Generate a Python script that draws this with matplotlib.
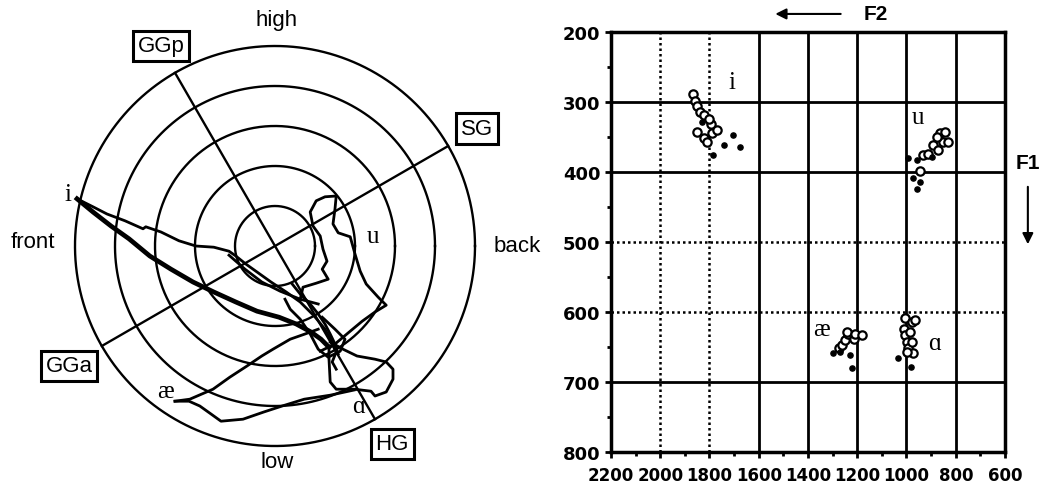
import matplotlib.pyplot as plt
import numpy as np

# ---- left panel: tongue trajectories in a polar-grid plane (units = ring spacing) ----
ring_radii = [1, 2, 3, 4, 5]
axis_angles = [30, 120]          # SG-GGa and GGp-HG axes, degrees

i_upper_x = [-4.95, -4.55, -4.2, -3.75, -3.3, -3.23, -2.85, -2.4, -1.98, -1.53, -1.15, -0.98,
             -0.73, -0.45, -0.1, 0.28, 0.63, 0.98, 1.25, 1.43, 1.53, 1.43, 1.53]
i_upper_y = [1.18, 0.98, 0.8, 0.63, 0.43, 0.48, 0.35, 0.13, 0.0, -0.03, -0.13, -0.25,
             -0.45, -0.65, -0.9, -1.15, -1.4, -1.75, -2.08, -2.4, -2.65, -2.9, -3.08]

i_lower_x = [-4.95, -4.55, -4.1, -3.65, -3.13, -2.6, -2.05, -1.53, -0.98, -0.45, 0.1, 0.53, 0.9, 1.15, 1.35]
i_lower_y = [1.18, 0.85, 0.5, 0.18, -0.25, -0.58, -0.9, -1.15, -1.4, -1.63, -1.78, -1.95, -2.15, -2.33, -2.53]

i_mid_x = [-1.15, -0.75, -0.33, 0.13, 0.63, 1.08]
i_mid_y = [-0.23, -0.58, -0.9, -1.13, -1.33, -1.45]

u_x = [0.63, 0.7, 1.03, 1.33, 1.18, 1.3, 1.2, 1.13, 0.95, 0.88, 1.03, 1.25, 1.53, 1.5, 1.45, 1.58,
       1.88, 2.0, 2.13, 2.28, 2.58, 2.78, 2.5, 2.18, 1.88, 1.5, 1.13]
u_y = [-1.33, -1.03, -0.93, -0.83, -0.58, -0.38, -0.08, 0.25, 0.5, 0.85, 1.13, 1.23, 1.25, 0.93, 0.55, 0.33,
       0.23, -0.2, -0.63, -0.95, -1.28, -1.48, -1.65, -1.88, -2.13, -2.45, -2.63]

ae_low_x = [-2.5, -2.15, -1.88, -1.6, -1.35, -0.8, -0.28, 0.18, 0.73, 1.38, 1.98]
ae_low_y = [-3.88, -3.88, -4.0, -4.2, -4.38, -4.33, -4.15, -4.0, -3.83, -3.73, -3.6]

ae_up_x = [-2.5, -2.13, -1.55, -1.13, -0.7, -0.33, -0.05, 0.38, 0.75, 1.08]
ae_up_y = [-3.88, -3.83, -3.58, -3.28, -3.0, -2.75, -2.58, -2.33, -2.2, -2.08]

a_x = [1.35, 1.35, 1.38, 1.53, 1.98, 2.4, 2.5, 2.78, 2.95, 2.95, 2.78, 2.5, 2.05, 1.7, 1.38]
a_y = [-2.5, -2.83, -3.4, -3.58, -3.58, -3.63, -3.75, -3.65, -3.33, -3.08, -2.9, -2.83, -2.75, -2.58, -2.4]

clA_x = [0.43, 0.63, 0.88, 1.08, 1.25, 1.38, 1.5, 1.58]
clA_y = [-0.95, -1.2, -1.45, -1.7, -1.95, -2.2, -2.45, -2.7]
clB_x = [0.25, 0.38, 0.63, 0.88, 1.08, 1.33, 1.63, 1.75, 1.5, 1.18]
clB_y = [-1.33, -1.58, -1.83, -2.2, -2.58, -2.78, -2.63, -2.33, -2.08, -1.78]

# ---- right panel: F1/F2 formant scatter (Hz) ----
open_f2 = [1865, 1858, 1851, 1840, 1821, 1851, 1824, 1794, 1790, 1770, 1804, 1810,
           931, 911, 891, 871, 850, 830, 864, 844, 877, 945,
           1276, 1263, 1249, 1236, 1242, 1215, 1208, 1181,
           1006, 1012, 1006, 999, 992, 979, 965, 985, 979, 972, 999]
open_f1 = [289, 298, 306, 314, 318, 343, 352, 332, 345, 340, 324, 357,
           376, 374, 362, 369, 357, 357, 345, 343, 350, 398,
           652, 647, 640, 631, 629, 638, 631, 633,
           609, 624, 633, 643, 652, 614, 612, 629, 643, 659, 657]
dot_f2 = [1786, 1740, 1705, 1675, 1831, 992, 972, 945, 958, 897, 958, 1297, 1269, 1229, 1222, 1033, 982]
dot_f1 = [376, 362, 347, 365, 328, 380, 409, 414, 424, 379, 383, 659, 657, 662, 680, 666, 678]

vowel_labels = ['i', 'u', 'æ', 'ɑ']
polar_label_x = [-5.18, 2.45, -2.75, 2.08]
polar_label_y = [1.3, 0.25, -3.63, -4.0]
scatter_label_f2 = [1709, 952, 1344, 884]
scatter_label_f1 = [271, 321, 624, 645]

xticks = [2200, 2000, 1800, 1600, 1400, 1200, 1000, 800, 600]
yticks = [200, 300, 400, 500, 600, 700, 800]
solid_v = [1600, 1400, 1200, 1000, 800]
dotted_v = [2000, 1800]
solid_h = [300, 400, 700]
dotted_h = [500, 600]

serif = ['Liberation Serif', 'DejaVu Serif']
sans = ['Liberation Sans', 'DejaVu Sans']

fig = plt.figure(figsize=(10.51, 4.85), dpi=100)

# ---------- left ----------
ax = fig.add_axes([0, 0, 560 / 1051, 1])
ax.set_xlim(-6.875, 7.125)
ax.set_ylim(-5.95, 6.175)
ax.axis('off')

t = np.linspace(0, 2 * np.pi, 400)
for r in ring_radii:
    ax.plot(r * np.cos(t), r * np.sin(t), color='k', lw=1.7)
for a in axis_angles:
    rad = np.deg2rad(a)
    ax.plot([-5 * np.cos(rad), 5 * np.cos(rad)], [-5 * np.sin(rad), 5 * np.sin(rad)], color='k', lw=1.7)

ax.plot(i_lower_x, i_lower_y, color='k', lw=3.4, solid_joinstyle='round')
for xs, ys in [(i_upper_x, i_upper_y), (i_mid_x, i_mid_y), (u_x, u_y), (ae_low_x, ae_low_y),
               (ae_up_x, ae_up_y), (a_x, a_y), (clA_x, clA_y), (clB_x, clB_y)]:
    ax.plot(xs, ys, color='k', lw=2, solid_joinstyle='round')

for lab, x, y in zip(vowel_labels, polar_label_x, polar_label_y):
    ax.text(x, y, lab, family=serif, fontsize=18, ha='center', va='center')

ax.text(0.05, 5.65, 'high', family=sans, fontsize=16, ha='center', va='center')
ax.text(0.05, -5.4, 'low', family=sans, fontsize=16, ha='center', va='center')
ax.text(-6.05, 0.12, 'front', family=sans, fontsize=16, ha='center', va='center')
ax.text(6.05, 0.0, 'back', family=sans, fontsize=16, ha='center', va='center')

box = dict(boxstyle='square,pad=0.22', fc='white', ec='k', lw=2.2)
ax.text(-2.85, 5.0, 'GGp', family=sans, fontsize=16, ha='center', va='center', bbox=box)
ax.text(5.05, 2.93, 'SG', family=sans, fontsize=16, ha='center', va='center', bbox=box)
ax.text(-5.15, -3.0, 'GGa', family=sans, fontsize=16, ha='center', va='center', bbox=box)
ax.text(2.93, -4.95, 'HG', family=sans, fontsize=16, ha='center', va='center', bbox=box)

# ---------- right ----------
bx = fig.add_axes([611 / 1051, 32 / 485, 394 / 1051, 420 / 485])
bx.set_xlim(2200, 600)
bx.set_ylim(800, 200)
for v in solid_v:
    bx.axvline(v, color='k', lw=2)
for v in dotted_v:
    bx.axvline(v, color='k', lw=1.8, ls=(0, (1, 1.2)))
for h in solid_h:
    bx.axhline(h, color='k', lw=2)
for h in dotted_h:
    bx.axhline(h, color='k', lw=1.8, ls=(0, (1, 1.2)))

bx.scatter(open_f2, open_f1, s=36, facecolors='white', edgecolors='k', linewidths=1.6, zorder=3)
bx.scatter(dot_f2, dot_f1, s=14, color='k', zorder=4)

for lab, x, y in zip(vowel_labels, scatter_label_f2, scatter_label_f1):
    bx.text(x, y, lab, family=serif, fontsize=18, ha='center', va='center')

bx.set_xticks(xticks)
bx.set_yticks(yticks)
bx.set_xticks(np.arange(2100, 600, -200), minor=True)
bx.set_yticks(np.arange(250, 800, 100), minor=True)
bx.tick_params(which='major', direction='out', length=4, width=2)
bx.tick_params(which='minor', direction='out', length=3, width=2)
bx.tick_params(axis='x', pad=6)
for lbl in bx.get_xticklabels():
    lbl.set_fontweight('bold')
    lbl.set_fontsize(12)
for lbl in bx.get_yticklabels():
    lbl.set_fontweight('bold')
    lbl.set_fontsize(13)
for s in bx.spines.values():
    s.set_linewidth(2.5)

bx.annotate('', xy=(0.41, 1.043), xytext=(0.59, 1.043), xycoords='axes fraction',
            arrowprops=dict(arrowstyle='-|>', color='k', lw=1.5, mutation_scale=16))
bx.text(0.673, 1.043, 'F2', transform=bx.transAxes, family=sans, fontsize=15,
        fontweight='bold', ha='center', va='center')
bx.text(1.058, 0.69, 'F1', transform=bx.transAxes, family=sans, fontsize=15,
        fontweight='bold', ha='center', va='center')
bx.annotate('', xy=(1.058, 0.488), xytext=(1.058, 0.638), xycoords='axes fraction',
            arrowprops=dict(arrowstyle='-|>', color='k', lw=1.5, mutation_scale=16))

fig.savefig('out.png', dpi=100)
